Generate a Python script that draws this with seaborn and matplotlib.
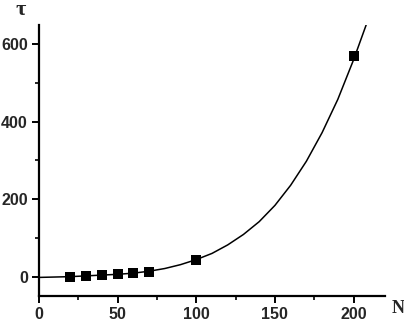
import matplotlib
matplotlib.use("Agg")
import matplotlib.pyplot as plt
import pandas as pd
import seaborn as sns
from matplotlib.ticker import MultipleLocator

# measured points
n_points = [20, 30, 40, 50, 60, 70, 100, 200]
tau_points = [0, 2.5, 3, 6, 8.5, 13, 44, 569]

# fitted curve
n_curve = [0, 10, 20, 30, 40, 50, 60, 70, 80, 90, 100, 110, 120, 130, 140,
           150, 160, 170, 180, 190, 200, 208]
tau_curve = [-2, -1, 0, 2, 4, 6, 9, 14, 21, 31, 44, 60, 82, 109, 142,
             184, 236, 298, 372, 458, 560, 650]

x_ticks = [0, 50, 100, 150, 200]
y_ticks = [0, 200, 400, 600]


def main() -> None:
    sns.set_theme(style="ticks")
    plt.rcParams["font.family"] = ["Liberation Sans", "DejaVu Sans"]

    pts = pd.DataFrame({"N": n_points, "tau": tau_points})
    curve = pd.DataFrame({"N": n_curve, "tau": tau_curve})

    fig = plt.figure(figsize=(4.04, 3.23), dpi=100)
    ax = fig.add_axes([0.0965, 0.0836, 0.8565, 0.839])

    sns.lineplot(data=curve, x="N", y="tau", color="black", linewidth=1.1, ax=ax)
    sns.scatterplot(data=pts, x="N", y="tau", marker="s", s=42, color="black",
                    edgecolor="black", linewidth=0, zorder=3, ax=ax)

    ax.set_xlim(0, 220)
    ax.set_ylim(-50, 650)
    ax.set_xticks(x_ticks)
    ax.set_yticks(y_ticks)
    ax.xaxis.set_minor_locator(MultipleLocator(25))
    ax.yaxis.set_minor_locator(MultipleLocator(100))
    ax.tick_params(which="major", direction="out", length=5, width=1.4,
                   labelsize=11.5, pad=3, color="black")
    ax.tick_params(which="minor", direction="out", length=3, width=1.2, color="black")
    for lab in ax.get_xticklabels() + ax.get_yticklabels():
        lab.set_fontweight("bold")

    sns.despine(ax=ax)
    for side in ("left", "bottom"):
        ax.spines[side].set_linewidth(1.6)
        ax.spines[side].set_color("black")

    ax.set_xlabel("")
    ax.set_ylabel("")
    fig.text(0.05, 0.968, "τ", fontsize=16, fontweight="bold",
             family=["Liberation Serif", "DejaVu Serif"], ha="center", va="center")
    fig.text(0.985, 0.045, "N", fontsize=13, fontweight="bold",
             family=["Liberation Serif", "DejaVu Serif"], ha="center", va="center")

    fig.savefig("out.png", dpi=100)
    plt.close(fig)


if __name__ == "__main__":
    main()
